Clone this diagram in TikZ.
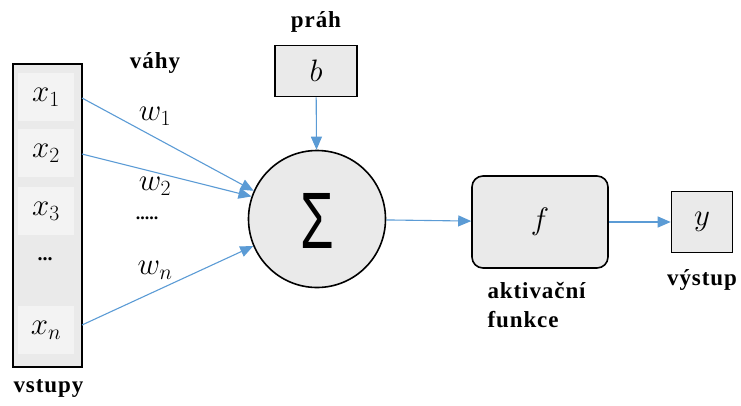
\RequirePackage{fix-cm}
\documentclass[tikz,border=0pt]{standalone}
\usepackage{fontspec}
\usepackage{graphicx}
\setmainfont{Liberation Serif}
\newfontfamily\sigmafont{Liberation Sans}
\newfontfamily\lblfont[LetterSpace=4]{Liberation Serif}
\usetikzlibrary{arrows.meta}
\definecolor{arrowblue}{RGB}{91,155,213}
\definecolor{boxgray}{RGB}{234,234,234}
\definecolor{cellgray}{RGB}{243,243,243}
\tikzset{
  blk/.style={draw=black, line width=1.6pt, fill=boxgray, inner sep=0pt},
  cell/.style={fill=cellgray, minimum width=56pt, minimum height=48pt, inner sep=0pt},
  mathlbl/.style={font=\fontsize{31}{36}\selectfont},
  lbl/.style={font=\lblfont\fontsize{23}{26}\selectfont\bfseries},
  conn/.style={draw=arrowblue, line width=1.1pt, -{Triangle[length=13pt,width=11pt]}},
}
\begin{document}
\begin{tikzpicture}[x=1pt,y=-1pt]
\useasboundingbox (0,0) rectangle (741,405);
% inputs
\node[blk, minimum width=69pt, minimum height=303pt] (inbox) at (47.5,215.5) {};
\node[cell, mathlbl] (x1) at (46,97) {$x_1$};
\node[cell, mathlbl] (x2) at (46,153) {$x_2$};
\node[cell, mathlbl] (x3) at (46,211) {$x_3$};
\node[font=\fontsize{20}{22}\selectfont\bfseries] (xd) at (45,259) {...};
\node[cell, mathlbl] (xn) at (46,330) {$x_n$};
\node[lbl, anchor=west] (vstupy) at (10,388) {vstupy};
\node[lbl] (vahy) at (155,63) {váhy};
% bias
\node[blk, minimum width=82pt, minimum height=51pt, mathlbl] (b) at (316,71) {$b$};
\node[lbl] (prah) at (316,22) {práh};
% sum
\node[draw=black, line width=1.6pt, fill=boxgray, circle, minimum size=137pt, inner sep=0pt] (sum) at (317,219) {};
\node (sig) at (317,221) {\scalebox{0.68}[1]{\sigmafont\fontsize{80}{80}\selectfont Σ}};
% activation
\node[blk, rounded corners=11pt, minimum width=136pt, minimum height=92pt, mathlbl] (f) at (540,222) {$f$};
\node[lbl, anchor=north west, align=left] (akt) at (484,279) {aktivační\\[3pt]funkce};
% output
\node[blk, minimum width=61pt, minimum height=61pt, mathlbl] (y) at (702,222) {$y$};
\node[lbl] (vystup) at (702,280) {výstup};
% weight labels
\node[mathlbl] (w1) at (155,116) {$w_1$};
\node[mathlbl] (w2) at (155,186) {$w_2$};
\node[font=\fontsize{18}{20}\selectfont\bfseries] (wd) at (147,218) {.....};
\node[mathlbl] (wn) at (155,270) {$w_n$};
% connectors
\coordinate (s1) at (82,98);
\coordinate (s2) at (82,154);
\coordinate (sn) at (82,325);
\draw[conn] (s1) -- (sum.156);
\draw[conn] (s2) -- (sum.161);
\draw[conn] (sn) -- (sum.203);
\draw[conn] (b) -- (sum);
\draw[conn] (sum) -- (f);
\draw[conn] (f) -- (y);
\end{tikzpicture}
\end{document}
